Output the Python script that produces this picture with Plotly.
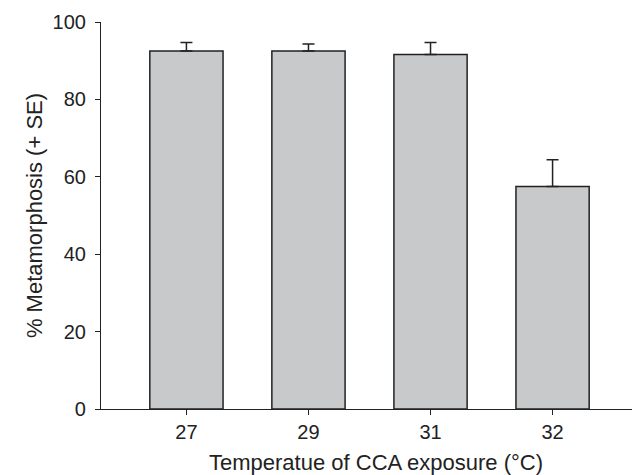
import plotly.graph_objects as go

categories = ["27", "29", "31", "32"]
metamorphosis = [92.5, 92.5, 91.6, 57.5]
se = [2.2, 1.8, 3.1, 6.9]
y_ticks = [0, 20, 40, 60, 80, 100]
x_title = "Temperatue of CCA exposure (°C)"
y_title = "% Metamorphosis (+ SE)"

fig = go.Figure()
fig.add_trace(go.Bar(
    x=categories,
    y=metamorphosis,
    width=0.6,
    marker=dict(color="#c8c9cb", line=dict(color="#222222", width=1.5)),
    error_y=dict(type="data", symmetric=False, array=se, arrayminus=[0]*len(se),
                 color="#222222", thickness=1.5, width=6),
))

font = "Liberation Sans, Arial, sans-serif"
fig.update_layout(
    width=640, height=475,
    margin=dict(l=93, r=10, t=14, b=74),
    plot_bgcolor="white", paper_bgcolor="white",
    showlegend=False,
    font=dict(family=font, size=18, color="#222222"),
    xaxis=dict(
        type="category", range=[-0.7, 3.7], automargin=False,
        showline=True, linecolor="#222222", linewidth=1.2,
        ticks="outside", ticklen=5, tickcolor="#222222", tickwidth=1.2,
        tickfont=dict(size=20),
        showgrid=False, zeroline=False,
    ),
    yaxis=dict(
        range=[0, 100], tickvals=y_ticks, automargin=False,
        showline=True, linecolor="#222222", linewidth=1.2,
        ticks="outside", ticklen=5, tickcolor="#222222", tickwidth=1.2,
        tickfont=dict(size=20), ticklabelstandoff=5,
        showgrid=False, zeroline=False,
        title=dict(text=y_title, standoff=3),
    ),
    annotations=[dict(
        text=x_title, xref="paper", yref="paper", x=0.512, y=0,
        xanchor="center", yanchor="middle", yshift=-53, showarrow=False,
        font=dict(family=font, size=22, color="#222222"),
    )],
)

fig.write_html("out.html")
